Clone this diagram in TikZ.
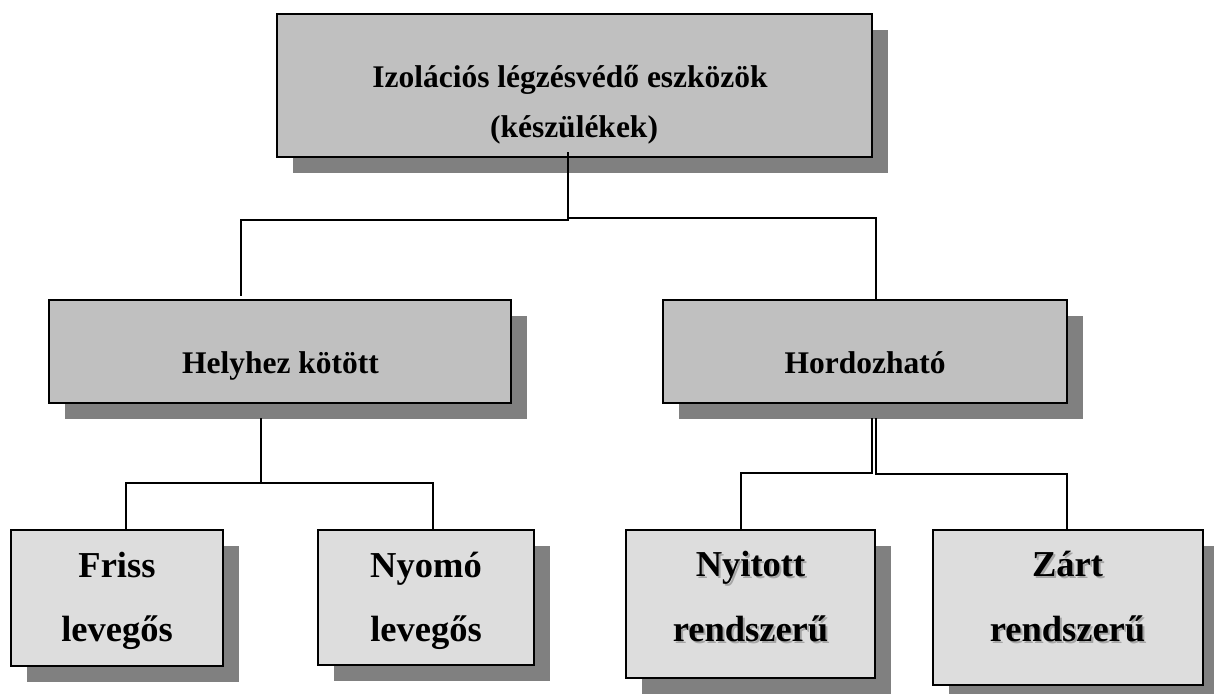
\documentclass[tikz,border=0pt]{standalone}
\usepackage{fontspec}
\setmainfont{Liberation Serif}
\usetikzlibrary{shadows}
\definecolor{boxgray}{RGB}{192,192,192}
\definecolor{lightbox}{RGB}{221,221,221}
\definecolor{shgray}{RGB}{128,128,128}
\definecolor{txtsh}{RGB}{165,165,165}
\tikzset{
  box/.style={draw=black, line width=2pt, inner sep=0pt, outer sep=0pt,
    drop shadow={shadow xshift=16pt, shadow yshift=-16pt, fill=shgray, opacity=1}},
  darkbox/.style={box, fill=boxgray},
  litebox/.style={box, fill=lightbox},
  conn/.style={draw=black, line width=1.4pt},
  bigtxt/.style={font=\fontsize{31.5}{38}\selectfont\bfseries, inner sep=0pt, anchor=base},
  smtxt/.style={font=\fontsize{36.5}{44}\selectfont\bfseries, inner sep=0pt, anchor=base},
}
\begin{document}
\begin{tikzpicture}[x=1pt,y=-1pt]
\useasboundingbox (0,0) rectangle (1214,693);
\clip (0,0) rectangle (1214,693);

% boxes
\node[darkbox, minimum width=595pt, minimum height=143pt] (top) at (574.5,85.5) {};
\node[darkbox, line width=1.7pt, minimum width=462pt, minimum height=103pt] (hel) at (280,351.5) {};
\node[darkbox, line width=1.7pt, minimum width=404pt, minimum height=103pt] (hord) at (865,351.5) {};
\node[litebox, minimum width=212pt, minimum height=136pt] (friss) at (117,598) {};
\node[litebox, minimum width=216pt, minimum height=135pt] (nyomo) at (426,597.5) {};
\node[litebox, minimum width=249pt, minimum height=148pt] (nyit) at (750.5,604) {};
\node[litebox, minimum width=270pt, minimum height=155pt] (zart) at (1068,607.5) {};

% connector points
\coordinate (tS) at (568,152);
\coordinate (tJ) at (568,220);
\coordinate (tJr) at (569,218);
\coordinate (helN) at (241,296);
\coordinate (hordN) at (876,300);
\coordinate (helS) at (261,418);
\coordinate (helJ) at (261,483);
\coordinate (frissN) at (126,530);
\coordinate (nyomoN) at (433,530);
\coordinate (hordSa) at (872,418);
\coordinate (hordJa) at (872,473);
\coordinate (hordSb) at (876,418);
\coordinate (hordJb) at (876,474);
\coordinate (nyitN) at (741,530);
\coordinate (zartN) at (1067,530);

% connectors
\draw[conn, line width=2pt] (tS) -- (tJ) -| (helN);
\draw[conn, line width=1.6pt] (tJ |- tJr) -- (tJr) -| (hordN);
\draw[conn] (helS) -- (helJ) -| (frissN);
\draw[conn] (helJ) -| (nyomoN);
\draw[conn] (hordSa) -- (hordJa) -| (nyitN);
\draw[conn] (hordSb) -- (hordJb) -| (zartN);

% texts
\node[bigtxt] (t1) at (570,87) {Izolációs légzésvédő eszközök};
\node[bigtxt] (t2) at (574,137) {(készülékek)};
\node[bigtxt] (t3) at (280.5,373) {Helyhez kötött};
\node[bigtxt] (t4) at (865,373) {Hordozható};
\node[smtxt] (t5) at (117,577) {Friss};
\node[smtxt] (t6) at (117,641) {levegős};
\node[smtxt] (t7) at (426,577) {Nyomó};
\node[smtxt] (t8) at (426,641) {levegős};
\node[smtxt, text=txtsh] (t9s) at (752.5,578) {Nyitott};
\node[smtxt, text=txtsh] (t10s) at (752.5,643) {rendszerű};
\node[smtxt, text=txtsh] (t11s) at (1069.5,578) {Zárt};
\node[smtxt, text=txtsh] (t12s) at (1069.5,643) {rendszerű};
\node[smtxt] (t9) at (750.5,576) {Nyitott};
\node[smtxt] (t10) at (750.5,641) {rendszerű};
\node[smtxt] (t11) at (1067.5,576) {Zárt};
\node[smtxt] (t12) at (1067.5,641) {rendszerű};
\end{tikzpicture}
\end{document}
